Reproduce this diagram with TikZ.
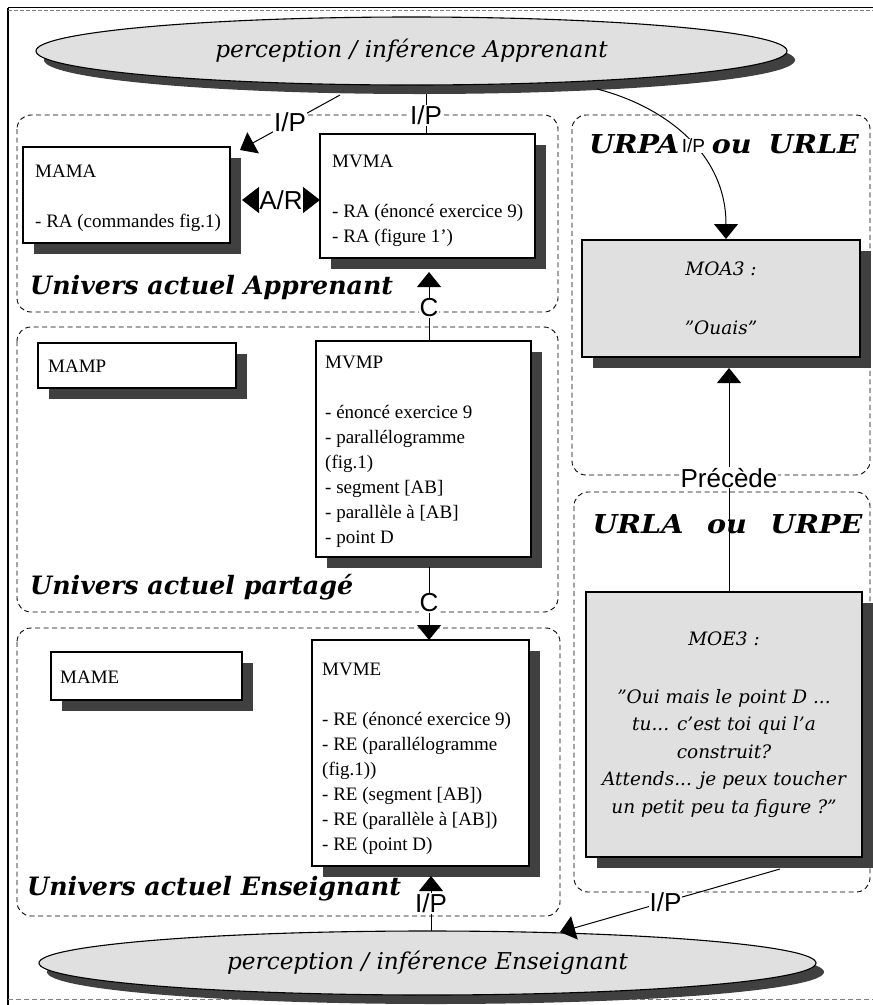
\documentclass[tikz,border=0pt]{standalone}
\usepackage{fontspec}
\setmainfont{Liberation Serif}
\newfontfamily\djs{DejaVu Serif}
\newfontfamily\djswide{DejaVu Serif}[FakeStretch=1.1]
\newfontfamily\lsans{Liberation Sans}
\usetikzlibrary{shapes.geometric,shadows,arrows.meta}
\definecolor{shadowgray}{HTML}{404040}
\definecolor{boxgray}{HTML}{E0E0E0}
\tikzset{
  univ/.style={draw, dash pattern=on 5pt off 3.5pt, line width=0.9pt, rounded corners=14pt},
  boxshadow/.style={drop shadow={shadow xshift=11pt,shadow yshift=-11pt,fill=shadowgray,opacity=1}},
  mbox/.style={draw, line width=1.1pt, fill=white, boxshadow, inner sep=0pt},
  btxt/.style={align=left, inner sep=0pt, anchor=west, font=\fontsize{19}{25}\selectfont},
  gbox/.style={draw, line width=1.1pt, fill=boxgray, boxshadow, align=center, inner sep=0pt,
    font=\djs\itshape\fontsize{18.5}{27.5}\selectfont},
  ell/.style={ellipse, draw, line width=1.1pt, fill=boxgray, inner sep=0pt,
    drop shadow={shadow xshift=8pt,shadow yshift=-9pt,fill=shadowgray,opacity=1},
    font=\djs\itshape\fontsize{23.2}{25}\selectfont},
  lab/.style={font=\lsans\fontsize{26}{26}\selectfont, fill=white, inner sep=1pt},
  smalllab/.style={font=\lsans\fontsize{19}{19}\selectfont, fill=white, inner sep=0pt},
  ttl/.style={font=\djs\bfseries\itshape\fontsize{25.3}{28}\selectfont, inner sep=0pt},
  ttlr/.style={font=\djswide\bfseries\itshape\fontsize{26}{28}\selectfont, inner sep=0pt},
  conn/.style={line width=1pt},
  tip/.style={-{Triangle[width=24pt,length=15pt]}},
  dtip/.style={{Triangle[width=26pt,length=17pt]}-{Triangle[width=26pt,length=17pt]}},
}
\begin{document}
\begin{tikzpicture}[x=1pt,y=-1pt]
\useasboundingbox (0,0) rectangle (873,1005);
% outer frame
\draw[line width=1.3pt] (8,8) -- (8,1005);
\draw[line width=1pt] (8,7.5) -- (873,7.5);
\draw[line width=1pt, gray, dash pattern=on 4pt off 2pt] (8,10.5) -- (873,10.5);
\draw[line width=1pt, gray, dash pattern=on 5pt off 3pt] (8,999) -- (873,999);
% universes
\draw[univ] (17,115) rectangle (558,312);
\draw[univ] (17,327) rectangle (558,612);
\draw[univ] (17,628) rectangle (560,916);
\draw[univ] (572,115) rectangle (870,475);
\draw[univ] (574,492) rectangle (870,892);
% ellipses
\node[ell, minimum width=751pt, minimum height=68pt] (ell1) at (411.5,51) {perception / inférence Apprenant};
\node[ell, minimum width=777pt, minimum height=64pt] (ell2) at (427.5,963) {perception / inférence Enseignant};
% boxes
\node[mbox, minimum width=207pt, minimum height=96pt] (mama) at (126.5,195) {};
\node[btxt] (mamat) at (35,198) {MAMA\\[25pt]- RA (commandes fig.1)};
\node[mbox, minimum width=215pt, minimum height=124pt] (mvma) at (427.5,196) {};
\node[btxt] (mvmat) at (332,200.5) {MVMA\\[25pt]- RA (énoncé exercice 9)\\- RA (figure 1’)};
\node[mbox, minimum width=198pt, minimum height=45pt] (mamp) at (137,365.5) {};
\node[btxt] (mampt) at (48,366.5) {MAMP};
\node[mbox, minimum width=215pt, minimum height=216pt] (mvmp) at (423.5,449) {};
\node[btxt] (mvmpt) at (325,451.5) {MVMP\\[25pt]- énoncé exercice 9\\- parallélogramme\\(fig.1)\\- segment [AB]\\- parallèle à [AB]\\- point D};
\node[mbox, minimum width=191pt, minimum height=48pt] (mame) at (146.5,676) {};
\node[btxt] (mamet) at (60,677) {MAME};
\node[mbox, minimum width=217pt, minimum height=226pt] (mvme) at (420.5,753) {};
\node[btxt] (mvmet) at (322,759) {MVME\\[25pt]- RE (énoncé exercice 9)\\- RE (parallélogramme\\(fig.1))\\- RE (segment [AB])\\- RE (parallèle à [AB])\\- RE (point D)};
\node[gbox, minimum width=278pt, minimum height=117pt] (moa3) at (721,298.5) {MOA3 :\\[32pt]”Ouais”};
\node[gbox, minimum width=276pt, minimum height=265pt] (moe3) at (724,724.5) {MOE3 :\\[30pt]”Oui mais le point D ...\\tu... c’est toi qui l’a\\construit?\\Attends... je peux toucher\\un petit peu ta figure ?”};
% connector end points
\coordinate (a1s) at (340,95);
\coordinate (a1e) at (240,150);
\coordinate (a2s) at (426,94);
\coordinate (a2e) at (426,134);
\coordinate (c1s) at (429,341);
\coordinate (c1e) at (429,272);
\coordinate (c2s) at (429,567);
\coordinate (c2e) at (429,640);
\coordinate (arl) at (242,200);
\coordinate (arr) at (320,200);
\coordinate (b1s) at (431,931);
\coordinate (b1e) at (431,876);
\coordinate (b2s) at (780,869);
\coordinate (b2e) at (560,932);
\coordinate (cvs) at (597,89);
\coordinate (cve) at (726,239);
\coordinate (prs) at (729,592);
\coordinate (pre) at (729,368);
% connectors
\draw[conn,tip] (a1s) -- node[lab,pos=0.5] (l1) {I/P} (a1e);
\draw[conn] (a2s) -- node[lab,pos=0.54] (l2) {I/P} (a2e);
\draw[conn,tip] (c1s) -- node[lab,pos=0.48] (l3) {C} (c1e);
\draw[conn,tip] (c2s) -- node[lab,pos=0.49] (l4) {C} (c2e);
\draw[conn,dtip] (arl) -- node[lab,inner sep=0pt] (l5) {A/R} (arr);
\draw[conn,tip] (b1s) -- node[lab,pos=0.5] (l6) {I/P} (b1e);
\draw[conn,tip] (b2s) -- node[lab,pos=0.52] (l7) {I/P} (b2e);
\draw[conn,tip] (cvs) .. controls (660,105) and (726,150) .. node[smalllab,pos=0.56] (l8) {I/P} (cve);
\draw[conn,tip] (prs) -- node[lab,pos=0.51] (l9) {Précède} (pre);
% titles
\node[ttl, anchor=west] (t1) at (30,288) {Univers actuel Apprenant};
\node[ttl, anchor=west] (t2) at (30,587) {Univers actuel partagé};
\node[ttl, anchor=west] (t3) at (27,888.5) {Univers actuel Enseignant};
\node[ttlr, text width=270pt] (t4) at (724,144) {\noindent URPA\hfill\hspace*{16pt}ou\hfill URLE};
\node[ttlr, text width=270pt] (t5) at (727.5,524) {\noindent URLA\hfill ou\hfill URPE};
\end{tikzpicture}
\end{document}
